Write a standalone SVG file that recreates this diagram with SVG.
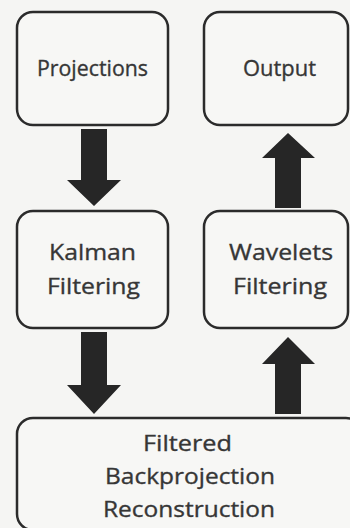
<svg xmlns="http://www.w3.org/2000/svg" width="350" height="528" viewBox="0 0 350 528">
  <style>
    .box { fill: #f7f7f5; stroke: #2b2b2b; stroke-width: 2.5; }
    .lbl { font-family: "Open Sans", "Liberation Sans", sans-serif; font-size: 22.5px; fill: #363636; stroke: #363636; stroke-width: 0.35; text-anchor: middle; }
    .arrow { fill: #262626; }
  </style>
  <rect x="0" y="0" width="350" height="528" fill="#f5f5f3"/>

  <g id="projections">
    <rect class="box" x="17" y="12" width="151" height="113" rx="16"/>
    <text class="lbl" x="92.5" y="76" textLength="111" lengthAdjust="spacingAndGlyphs">Projections</text>
  </g>

  <g id="output">
    <rect class="box" x="204" y="12" width="144" height="113" rx="16"/>
    <text class="lbl" x="279.5" y="76" textLength="73" lengthAdjust="spacingAndGlyphs">Output</text>
  </g>

  <g id="kalman">
    <rect class="box" x="17" y="211" width="151" height="117" rx="16"/>
    <text class="lbl" x="92.5" y="260" textLength="87" lengthAdjust="spacingAndGlyphs">Kalman</text>
    <text class="lbl" x="93.5" y="294" textLength="93" lengthAdjust="spacingAndGlyphs">Filtering</text>
  </g>

  <g id="wavelets">
    <rect class="box" x="204" y="211" width="144" height="117" rx="16"/>
    <text class="lbl" x="281" y="260" textLength="104" lengthAdjust="spacingAndGlyphs">Wavelets</text>
    <text class="lbl" x="280" y="294" textLength="94" lengthAdjust="spacingAndGlyphs">Filtering</text>
  </g>

  <g id="fbp">
    <rect class="box" x="17" y="418" width="345" height="112" rx="16"/>
    <text class="lbl" x="187.5" y="451" textLength="89" lengthAdjust="spacingAndGlyphs">Filtered</text>
    <text class="lbl" x="190" y="484" textLength="170" lengthAdjust="spacingAndGlyphs">Backprojection</text>
    <text class="lbl" x="189" y="517" textLength="172" lengthAdjust="spacingAndGlyphs">Reconstruction</text>
  </g>

  <g id="connectors">
    <!-- Projections to Kalman -->
    <polygon class="arrow" points="81,129 107,129 107,180 121,180 94,206 67,180 81,180"/>
    <!-- Wavelets to Output -->
    <polygon class="arrow" points="288,133 315,158 301,158 301,208 275,208 275,158 262,158"/>
    <!-- Kalman to FBP -->
    <polygon class="arrow" points="81,332 107,332 107,385 121,385 94,414 67,385 81,385"/>
    <!-- FBP to Wavelets -->
    <polygon class="arrow" points="288,337 315,364 301,364 301,414 275,414 275,364 262,364"/>
  </g>
</svg>
